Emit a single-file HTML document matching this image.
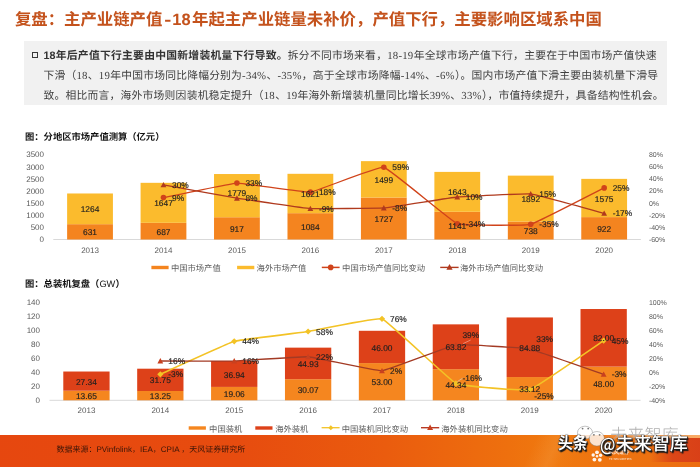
<!DOCTYPE html>
<html lang="zh-CN">
<head>
<meta charset="utf-8">
<title>复盘：主产业链产值</title>
<style>
html,body{margin:0;padding:0;}
body{text-rendering:geometricPrecision;-webkit-font-smoothing:antialiased;width:700px;height:467px;position:relative;overflow:hidden;background:#fff;font-family:"Liberation Sans", "Noto Sans CJK SC", sans-serif;}
#wrap{position:absolute;left:0;top:0;width:700px;height:467px;}
.abs{position:absolute;white-space:nowrap;}
#title{left:14.9px;top:7.7px;height:24px;line-height:24px;font-size:16.4px;font-weight:bold;color:#c4521c;letter-spacing:0;}
#box{left:24px;top:41px;width:643px;height:64px;background:#f1f1f1;}
#bullet{left:31.8px;top:51.7px;width:4.1px;height:4.1px;border:1.6px solid #383838;}
.ln{left:43.5px;width:611px;height:20px;line-height:20px;font-size:10.8px;color:#404040;text-align:justify;text-align-last:justify;white-space:nowrap;}
.ln b{color:#333;}
.ln .n{font-family:"Liberation Serif","Noto Sans CJK SC",serif;letter-spacing:0.2px;}
.ct{font-size:9.3px;font-weight:bold;color:#111;height:12px;line-height:12px;}
.lg{font-size:8.3px;color:#595959;height:12px;line-height:12px;}
#charts{left:0;top:0;}
#charts text{font-family:"Liberation Sans", "Noto Sans CJK SC", sans-serif;text-rendering:geometricPrecision;}
#footer{left:-10px;top:435.2px;width:720px;height:45px;background:linear-gradient(90deg,#e6470f 0%,#e74c0f 35%,#ea5c0e 55%,#ee700e 72%,#f0790f 78%,#ee7410 86%,#ec6c10 100%);}
#glow{left:500px;top:435.2px;width:110px;height:33px;background:linear-gradient(115deg,rgba(255,220,170,0) 30%,rgba(255,225,180,0.10) 48%,rgba(255,225,180,0.02) 58%,rgba(255,220,170,0) 70%);}
#ftop{left:590px;top:435.2px;width:110px;height:3.2px;background:linear-gradient(90deg,rgba(255,205,150,0),rgba(255,205,150,0.5) 50%,rgba(255,205,150,0.65));}
#fred{left:650px;top:438.4px;width:50px;height:24px;background:linear-gradient(90deg,rgba(218,66,24,0),rgba(218,66,24,0.9) 45%,rgba(216,62,24,0.95));}
#src{left:56.5px;top:443.9px;height:12px;line-height:12px;font-size:8px;color:#3b1508;}
.wm{top:431.8px;height:24px;line-height:24px;font-size:18px;font-weight:500;color:#fff;text-shadow:1px 1px 1.2px #1a1a1a,1.5px 1.5px 1px #1a1a1a,-0.5px -0.5px 0.8px #333,0.8px -0.5px 0.8px #333,-0.5px 0.8px 0.8px #333;}
#wm2{left:610px;top:423px;height:24px;line-height:24px;font-size:17.2px;font-weight:300;color:rgba(95,95,95,0.5);text-shadow:0 0 1px rgba(255,255,255,0.9);}
#tf{left:609px;top:449.5px;height:7px;line-height:7px;font-size:5px;color:rgba(255,255,255,0.85);font-weight:bold;}
#tf2{left:609px;top:456.5px;height:5px;line-height:5px;font-size:3px;color:rgba(255,255,255,0.8);}
</style>
</head>
<body>
<div id="wrap">
<div id="title" class="abs">复盘：主产业链产值<span style="display:inline-block;transform:scaleX(1.3);margin:0 1.6px 0 2.9px">-</span><span style="margin-right:1.5px">18</span>年起主产业链量未补价，产值下行，主要影响区域系中国</div>
<div id="box" class="abs"></div>
<div id="bullet" class="abs"></div>
<div class="abs ln" style="top:46px;width:613px"><b>18年后产值下行主要由中国新增装机量下行导致。</b>拆分不同市场来看，<span class="n">18-19</span>年全球市场产值下行，主要在于中国市场产值快速</div>
<div class="abs ln" style="top:65.9px;width:614.5px">下滑（<span class="n">18</span>、<span class="n">19</span>年中国市场同比降幅分别为<span class="n">-34%</span>、<span class="n">-35%</span>，高于全球市场降幅<span class="n">-14%</span>、<span class="n">-6%</span>）。国内市场产值下滑主要由装机量下滑导</div>
<div class="abs ln" style="top:85.6px;width:620px">致。相比而言，海外市场则因装机稳定提升（<span class="n">18</span>、<span class="n">19</span>年海外新增装机量同比增长<span class="n">39%</span>、<span class="n">33%</span>），市值持续提升，具备结构性机会。</div>

<div class="abs ct" style="left:25px;top:130.8px">图：分地区市场产值测算（亿元）</div>
<div class="abs ct" style="left:25px;top:278px">图：总装机复盘（<span style="font-weight:normal">GW</span>）</div>

<svg id="charts" class="abs" width="700" height="467" viewBox="0 0 700 467">
<line x1="53.3" y1="239.5" x2="640.9" y2="239.5" stroke="#d9d9d9" stroke-width="1"/>
<text x="44.00" y="242.38" font-size="8" text-anchor="end" fill="#595959" font-weight="normal">0</text>
<text x="44.00" y="230.24" font-size="8" text-anchor="end" fill="#595959" font-weight="normal">500</text>
<text x="44.00" y="218.09" font-size="8" text-anchor="end" fill="#595959" font-weight="normal">1000</text>
<text x="44.00" y="205.95" font-size="8" text-anchor="end" fill="#595959" font-weight="normal">1500</text>
<text x="44.00" y="193.81" font-size="8" text-anchor="end" fill="#595959" font-weight="normal">2000</text>
<text x="44.00" y="181.67" font-size="8" text-anchor="end" fill="#595959" font-weight="normal">2500</text>
<text x="44.00" y="169.52" font-size="8" text-anchor="end" fill="#595959" font-weight="normal">3000</text>
<text x="44.00" y="157.38" font-size="8" text-anchor="end" fill="#595959" font-weight="normal">3500</text>
<text x="648.90" y="157.02" font-size="7" text-anchor="start" fill="#595959" font-weight="normal">80%</text>
<text x="648.90" y="169.16" font-size="7" text-anchor="start" fill="#595959" font-weight="normal">60%</text>
<text x="648.90" y="181.31" font-size="7" text-anchor="start" fill="#595959" font-weight="normal">40%</text>
<text x="648.90" y="193.45" font-size="7" text-anchor="start" fill="#595959" font-weight="normal">20%</text>
<text x="648.90" y="205.59" font-size="7" text-anchor="start" fill="#595959" font-weight="normal">0%</text>
<text x="648.90" y="217.73" font-size="7" text-anchor="start" fill="#595959" font-weight="normal">-20%</text>
<text x="648.90" y="229.88" font-size="7" text-anchor="start" fill="#595959" font-weight="normal">-40%</text>
<text x="648.90" y="242.02" font-size="7" text-anchor="start" fill="#595959" font-weight="normal">-60%</text>
<rect x="67.12" y="224.18" width="45.80" height="15.32" fill="#f4841f"/>
<rect x="67.12" y="193.48" width="45.80" height="30.70" fill="#fbbb2d"/>
<text x="90.03" y="252.68" font-size="8" text-anchor="middle" fill="#595959" font-weight="normal">2013</text>
<rect x="140.58" y="222.82" width="45.80" height="16.68" fill="#f4841f"/>
<rect x="140.58" y="182.82" width="45.80" height="40.00" fill="#fbbb2d"/>
<text x="163.48" y="252.68" font-size="8" text-anchor="middle" fill="#595959" font-weight="normal">2014</text>
<rect x="214.03" y="217.23" width="45.80" height="22.27" fill="#f4841f"/>
<rect x="214.03" y="174.03" width="45.80" height="43.20" fill="#fbbb2d"/>
<text x="236.93" y="252.68" font-size="8" text-anchor="middle" fill="#595959" font-weight="normal">2015</text>
<rect x="287.48" y="213.17" width="45.80" height="26.33" fill="#f4841f"/>
<rect x="287.48" y="173.81" width="45.80" height="39.37" fill="#fbbb2d"/>
<text x="310.38" y="252.68" font-size="8" text-anchor="middle" fill="#595959" font-weight="normal">2016</text>
<rect x="360.93" y="197.56" width="45.80" height="41.94" fill="#f4841f"/>
<rect x="360.93" y="161.15" width="45.80" height="36.40" fill="#fbbb2d"/>
<text x="383.83" y="252.68" font-size="8" text-anchor="middle" fill="#595959" font-weight="normal">2017</text>
<rect x="434.38" y="211.79" width="45.80" height="27.71" fill="#f4841f"/>
<rect x="434.38" y="171.89" width="45.80" height="39.90" fill="#fbbb2d"/>
<text x="457.28" y="252.68" font-size="8" text-anchor="middle" fill="#595959" font-weight="normal">2018</text>
<rect x="507.83" y="221.58" width="45.80" height="17.92" fill="#f4841f"/>
<rect x="507.83" y="175.63" width="45.80" height="45.95" fill="#fbbb2d"/>
<text x="530.73" y="252.68" font-size="8" text-anchor="middle" fill="#595959" font-weight="normal">2019</text>
<rect x="581.27" y="217.11" width="45.80" height="22.39" fill="#f4841f"/>
<rect x="581.27" y="178.86" width="45.80" height="38.25" fill="#fbbb2d"/>
<text x="604.17" y="252.68" font-size="8" text-anchor="middle" fill="#595959" font-weight="normal">2020</text>
<path d="M163.48 197.61 C166.05 197.10 231.78 183.23 236.93 183.04 C242.07 182.84 305.23 192.70 310.38 192.14 C315.52 191.59 378.68 166.15 383.83 167.25 C388.97 168.35 452.13 221.72 457.28 223.71 C462.42 225.71 525.58 225.58 530.73 224.32 C535.87 223.07 601.60 189.17 604.17 187.89" fill="none" stroke="#d0431a" stroke-width="1.3"/>
<path d="M163.48 184.86 C166.05 185.32 231.78 197.39 236.93 198.21 C242.07 199.04 305.23 208.20 310.38 208.54 C315.52 208.88 378.68 208.33 383.83 207.93 C388.97 207.52 452.13 197.49 457.28 197.00 C462.42 196.51 525.58 193.39 530.73 193.96 C535.87 194.54 601.60 212.71 604.17 213.39" fill="none" stroke="#b03a1e" stroke-width="1.3"/>
<circle cx="163.48" cy="197.61" r="2.80" fill="#d0431a"/>
<circle cx="236.93" cy="183.04" r="2.80" fill="#d0431a"/>
<circle cx="310.38" cy="192.14" r="2.80" fill="#d0431a"/>
<circle cx="383.83" cy="167.25" r="2.80" fill="#d0431a"/>
<circle cx="457.28" cy="223.71" r="2.80" fill="#d0431a"/>
<circle cx="530.73" cy="224.32" r="2.80" fill="#d0431a"/>
<circle cx="604.17" cy="187.89" r="2.80" fill="#d0431a"/>
<polygon points="163.48,181.96 166.38,187.32 160.58,187.32" fill="#b03a1e"/>
<polygon points="236.93,195.31 239.83,200.68 234.03,200.68" fill="#b03a1e"/>
<polygon points="310.38,205.64 313.27,211.00 307.48,211.00" fill="#b03a1e"/>
<polygon points="383.83,205.03 386.73,210.39 380.93,210.39" fill="#b03a1e"/>
<polygon points="457.28,194.10 460.18,199.46 454.38,199.46" fill="#b03a1e"/>
<polygon points="530.73,191.06 533.62,196.43 527.83,196.43" fill="#b03a1e"/>
<polygon points="604.17,210.49 607.07,215.86 601.27,215.86" fill="#b03a1e"/>
<text x="90.03" y="235.46" font-size="8.4" text-anchor="middle" fill="#1f1f1f" font-weight="normal" stroke="#1f1f1f" stroke-width="0.15">631</text>
<text x="90.03" y="212.45" font-size="8.4" text-anchor="middle" fill="#1f1f1f" font-weight="normal" stroke="#1f1f1f" stroke-width="0.15">1264</text>
<text x="163.48" y="234.78" font-size="8.4" text-anchor="middle" fill="#1f1f1f" font-weight="normal" stroke="#1f1f1f" stroke-width="0.15">687</text>
<text x="163.48" y="206.44" font-size="8.4" text-anchor="middle" fill="#1f1f1f" font-weight="normal" stroke="#1f1f1f" stroke-width="0.15">1647</text>
<text x="236.93" y="231.99" font-size="8.4" text-anchor="middle" fill="#1f1f1f" font-weight="normal" stroke="#1f1f1f" stroke-width="0.15">917</text>
<text x="236.93" y="196.25" font-size="8.4" text-anchor="middle" fill="#1f1f1f" font-weight="normal" stroke="#1f1f1f" stroke-width="0.15">1779</text>
<text x="310.38" y="229.96" font-size="8.4" text-anchor="middle" fill="#1f1f1f" font-weight="normal" stroke="#1f1f1f" stroke-width="0.15">1084</text>
<text x="310.38" y="197.11" font-size="8.4" text-anchor="middle" fill="#1f1f1f" font-weight="normal" stroke="#1f1f1f" stroke-width="0.15">1621</text>
<text x="383.83" y="222.15" font-size="8.4" text-anchor="middle" fill="#1f1f1f" font-weight="normal" stroke="#1f1f1f" stroke-width="0.15">1727</text>
<text x="383.83" y="182.98" font-size="8.4" text-anchor="middle" fill="#1f1f1f" font-weight="normal" stroke="#1f1f1f" stroke-width="0.15">1499</text>
<text x="457.28" y="229.27" font-size="8.4" text-anchor="middle" fill="#1f1f1f" font-weight="normal" stroke="#1f1f1f" stroke-width="0.15">1141</text>
<text x="457.28" y="195.46" font-size="8.4" text-anchor="middle" fill="#1f1f1f" font-weight="normal" stroke="#1f1f1f" stroke-width="0.15">1643</text>
<text x="530.73" y="234.16" font-size="8.4" text-anchor="middle" fill="#1f1f1f" font-weight="normal" stroke="#1f1f1f" stroke-width="0.15">738</text>
<text x="530.73" y="202.23" font-size="8.4" text-anchor="middle" fill="#1f1f1f" font-weight="normal" stroke="#1f1f1f" stroke-width="0.15">1892</text>
<text x="604.17" y="231.93" font-size="8.4" text-anchor="middle" fill="#1f1f1f" font-weight="normal" stroke="#1f1f1f" stroke-width="0.15">922</text>
<text x="604.17" y="201.61" font-size="8.4" text-anchor="middle" fill="#1f1f1f" font-weight="normal" stroke="#1f1f1f" stroke-width="0.15">1575</text>
<text x="171.98" y="200.63" font-size="8.4" text-anchor="start" fill="#1f1f1f" font-weight="normal" stroke="#1f1f1f" stroke-width="0.15">9%</text>
<text x="171.98" y="187.88" font-size="8.4" text-anchor="start" fill="#1f1f1f" font-weight="normal" stroke="#1f1f1f" stroke-width="0.15">30%</text>
<text x="245.43" y="186.06" font-size="8.4" text-anchor="start" fill="#1f1f1f" font-weight="normal" stroke="#1f1f1f" stroke-width="0.15">33%</text>
<text x="245.43" y="201.24" font-size="8.4" text-anchor="start" fill="#1f1f1f" font-weight="normal" stroke="#1f1f1f" stroke-width="0.15">8%</text>
<text x="318.88" y="195.17" font-size="8.4" text-anchor="start" fill="#1f1f1f" font-weight="normal" stroke="#1f1f1f" stroke-width="0.15">18%</text>
<text x="318.88" y="211.56" font-size="8.4" text-anchor="start" fill="#1f1f1f" font-weight="normal" stroke="#1f1f1f" stroke-width="0.15">-9%</text>
<text x="392.33" y="170.27" font-size="8.4" text-anchor="start" fill="#1f1f1f" font-weight="normal" stroke="#1f1f1f" stroke-width="0.15">59%</text>
<text x="392.33" y="210.95" font-size="8.4" text-anchor="start" fill="#1f1f1f" font-weight="normal" stroke="#1f1f1f" stroke-width="0.15">-8%</text>
<text x="465.78" y="226.74" font-size="8.4" text-anchor="start" fill="#1f1f1f" font-weight="normal" stroke="#1f1f1f" stroke-width="0.15">-34%</text>
<text x="465.78" y="200.02" font-size="8.4" text-anchor="start" fill="#1f1f1f" font-weight="normal" stroke="#1f1f1f" stroke-width="0.15">10%</text>
<text x="539.23" y="227.35" font-size="8.4" text-anchor="start" fill="#1f1f1f" font-weight="normal" stroke="#1f1f1f" stroke-width="0.15">-35%</text>
<text x="539.23" y="196.99" font-size="8.4" text-anchor="start" fill="#1f1f1f" font-weight="normal" stroke="#1f1f1f" stroke-width="0.15">15%</text>
<text x="612.67" y="190.92" font-size="8.4" text-anchor="start" fill="#1f1f1f" font-weight="normal" stroke="#1f1f1f" stroke-width="0.15">25%</text>
<text x="612.67" y="216.42" font-size="8.4" text-anchor="start" fill="#1f1f1f" font-weight="normal" stroke="#1f1f1f" stroke-width="0.15">-17%</text>
<rect x="151.4" y="265.8" width="17.2" height="3.4" fill="#f4841f"/>
<rect x="237.1" y="265.8" width="17.2" height="3.4" fill="#fbbb2d"/>
<line x1="321.8" y1="267.4" x2="339.6" y2="267.4" stroke="#d0431a" stroke-width="1.5"/>
<circle cx="330.70" cy="267.40" r="2.80" fill="#d0431a"/>
<line x1="440.2" y1="267.4" x2="458.6" y2="267.4" stroke="#b03a1e" stroke-width="1.4"/>
<polygon points="449.50,264.10 452.60,269.83 446.40,269.83" fill="#b03a1e"/>
<line x1="49.5" y1="400.3" x2="640.6" y2="400.3" stroke="#d9d9d9" stroke-width="1"/>
<text x="40.00" y="403.18" font-size="8" text-anchor="end" fill="#595959" font-weight="normal">0</text>
<text x="40.00" y="389.14" font-size="8" text-anchor="end" fill="#595959" font-weight="normal">20</text>
<text x="40.00" y="375.09" font-size="8" text-anchor="end" fill="#595959" font-weight="normal">40</text>
<text x="40.00" y="361.05" font-size="8" text-anchor="end" fill="#595959" font-weight="normal">60</text>
<text x="40.00" y="347.01" font-size="8" text-anchor="end" fill="#595959" font-weight="normal">80</text>
<text x="40.00" y="332.97" font-size="8" text-anchor="end" fill="#595959" font-weight="normal">100</text>
<text x="40.00" y="318.92" font-size="8" text-anchor="end" fill="#595959" font-weight="normal">120</text>
<text x="40.00" y="304.88" font-size="8" text-anchor="end" fill="#595959" font-weight="normal">140</text>
<text x="648.90" y="304.52" font-size="7" text-anchor="start" fill="#595959" font-weight="normal">100%</text>
<text x="648.90" y="318.56" font-size="7" text-anchor="start" fill="#595959" font-weight="normal">80%</text>
<text x="648.90" y="332.61" font-size="7" text-anchor="start" fill="#595959" font-weight="normal">60%</text>
<text x="648.90" y="346.65" font-size="7" text-anchor="start" fill="#595959" font-weight="normal">40%</text>
<text x="648.90" y="360.69" font-size="7" text-anchor="start" fill="#595959" font-weight="normal">20%</text>
<text x="648.90" y="374.73" font-size="7" text-anchor="start" fill="#595959" font-weight="normal">0%</text>
<text x="648.90" y="388.78" font-size="7" text-anchor="start" fill="#595959" font-weight="normal">-20%</text>
<text x="648.90" y="402.82" font-size="7" text-anchor="start" fill="#595959" font-weight="normal">-40%</text>
<rect x="63.29" y="390.72" width="46.30" height="9.58" fill="#f5861f"/>
<rect x="63.29" y="371.52" width="46.30" height="19.20" fill="#dd4119"/>
<text x="86.44" y="413.28" font-size="8" text-anchor="middle" fill="#595959" font-weight="normal">2013</text>
<rect x="137.18" y="391.00" width="46.30" height="9.30" fill="#f5861f"/>
<rect x="137.18" y="368.70" width="46.30" height="22.29" fill="#dd4119"/>
<text x="160.33" y="413.28" font-size="8" text-anchor="middle" fill="#595959" font-weight="normal">2014</text>
<rect x="211.07" y="386.92" width="46.30" height="13.38" fill="#f5861f"/>
<rect x="211.07" y="360.98" width="46.30" height="25.94" fill="#dd4119"/>
<text x="234.22" y="413.28" font-size="8" text-anchor="middle" fill="#595959" font-weight="normal">2015</text>
<rect x="284.96" y="379.19" width="46.30" height="21.11" fill="#f5861f"/>
<rect x="284.96" y="347.64" width="46.30" height="31.55" fill="#dd4119"/>
<text x="308.11" y="413.28" font-size="8" text-anchor="middle" fill="#595959" font-weight="normal">2016</text>
<rect x="358.84" y="363.09" width="46.30" height="37.21" fill="#f5861f"/>
<rect x="358.84" y="330.79" width="46.30" height="32.30" fill="#dd4119"/>
<text x="381.99" y="413.28" font-size="8" text-anchor="middle" fill="#595959" font-weight="normal">2017</text>
<rect x="432.73" y="369.17" width="46.30" height="31.13" fill="#f5861f"/>
<rect x="432.73" y="324.36" width="46.30" height="44.81" fill="#dd4119"/>
<text x="455.88" y="413.28" font-size="8" text-anchor="middle" fill="#595959" font-weight="normal">2018</text>
<rect x="506.62" y="377.05" width="46.30" height="23.25" fill="#f5861f"/>
<rect x="506.62" y="317.45" width="46.30" height="59.60" fill="#dd4119"/>
<text x="529.77" y="413.28" font-size="8" text-anchor="middle" fill="#595959" font-weight="normal">2019</text>
<rect x="580.51" y="366.60" width="46.30" height="33.70" fill="#f5861f"/>
<rect x="580.51" y="309.02" width="46.30" height="57.58" fill="#dd4119"/>
<text x="603.66" y="413.28" font-size="8" text-anchor="middle" fill="#595959" font-weight="normal">2020</text>
<path d="M160.33 374.32 C162.92 373.17 229.05 342.82 234.22 341.32 C239.39 339.82 302.93 332.28 308.11 331.49 C313.28 330.70 376.82 317.03 381.99 318.85 C387.17 320.67 450.71 380.97 455.88 383.45 C461.05 385.93 524.60 391.27 529.77 389.77 C534.94 388.27 601.07 342.34 603.66 340.62" fill="none" stroke="#f3c326" stroke-width="1.6"/>
<path d="M160.33 360.98 C162.92 360.98 229.05 361.13 234.22 360.98 C239.39 360.83 302.93 356.42 308.11 356.77 C313.28 357.11 376.82 371.23 381.99 370.81 C387.17 370.39 450.71 345.59 455.88 344.83 C461.05 344.07 524.60 348.01 529.77 349.04 C534.94 350.08 601.07 373.44 603.66 374.32" fill="none" stroke="#a33a24" stroke-width="1.3"/>
<polygon points="160.33,371.22 163.43,374.32 160.33,377.42 157.23,374.32" fill="#f3c326"/>
<polygon points="234.22,338.22 237.32,341.32 234.22,344.42 231.12,341.32" fill="#f3c326"/>
<polygon points="308.11,328.39 311.21,331.49 308.11,334.59 305.01,331.49" fill="#f3c326"/>
<polygon points="381.99,315.75 385.09,318.85 381.99,321.95 378.89,318.85" fill="#f3c326"/>
<polygon points="455.88,380.35 458.98,383.45 455.88,386.55 452.78,383.45" fill="#f3c326"/>
<polygon points="529.77,386.67 532.87,389.77 529.77,392.87 526.67,389.77" fill="#f3c326"/>
<polygon points="603.66,337.52 606.76,340.62 603.66,343.72 600.56,340.62" fill="#f3c326"/>
<polygon points="160.33,358.08 163.23,363.44 157.43,363.44" fill="#c9401f"/>
<polygon points="234.22,358.08 237.12,363.44 231.32,363.44" fill="#c9401f"/>
<polygon points="308.11,353.87 311.01,359.23 305.21,359.23" fill="#c9401f"/>
<polygon points="381.99,367.91 384.89,373.27 379.09,373.27" fill="#c9401f"/>
<polygon points="455.88,341.93 458.78,347.30 452.98,347.30" fill="#c9401f"/>
<polygon points="529.77,346.14 532.67,351.51 526.87,351.51" fill="#c9401f"/>
<polygon points="603.66,371.42 606.56,376.79 600.76,376.79" fill="#c9401f"/>
<text x="86.44" y="399.13" font-size="8.4" text-anchor="middle" fill="#1f1f1f" font-weight="normal" stroke="#1f1f1f" stroke-width="0.15">13.65</text>
<text x="86.44" y="384.74" font-size="8.4" text-anchor="middle" fill="#1f1f1f" font-weight="normal" stroke="#1f1f1f" stroke-width="0.15">27.34</text>
<text x="160.33" y="399.27" font-size="8.4" text-anchor="middle" fill="#1f1f1f" font-weight="normal" stroke="#1f1f1f" stroke-width="0.15">13.25</text>
<text x="160.33" y="383.47" font-size="8.4" text-anchor="middle" fill="#1f1f1f" font-weight="normal" stroke="#1f1f1f" stroke-width="0.15">31.75</text>
<text x="234.22" y="397.23" font-size="8.4" text-anchor="middle" fill="#1f1f1f" font-weight="normal" stroke="#1f1f1f" stroke-width="0.15">19.06</text>
<text x="234.22" y="377.57" font-size="8.4" text-anchor="middle" fill="#1f1f1f" font-weight="normal" stroke="#1f1f1f" stroke-width="0.15">36.94</text>
<text x="308.11" y="393.37" font-size="8.4" text-anchor="middle" fill="#1f1f1f" font-weight="normal" stroke="#1f1f1f" stroke-width="0.15">30.07</text>
<text x="308.11" y="367.04" font-size="8.4" text-anchor="middle" fill="#1f1f1f" font-weight="normal" stroke="#1f1f1f" stroke-width="0.15">44.93</text>
<text x="381.99" y="385.32" font-size="8.4" text-anchor="middle" fill="#1f1f1f" font-weight="normal" stroke="#1f1f1f" stroke-width="0.15">53.00</text>
<text x="381.99" y="350.56" font-size="8.4" text-anchor="middle" fill="#1f1f1f" font-weight="normal" stroke="#1f1f1f" stroke-width="0.15">46.00</text>
<text x="455.88" y="388.36" font-size="8.4" text-anchor="middle" fill="#1f1f1f" font-weight="normal" stroke="#1f1f1f" stroke-width="0.15">44.34</text>
<text x="455.88" y="350.39" font-size="8.4" text-anchor="middle" fill="#1f1f1f" font-weight="normal" stroke="#1f1f1f" stroke-width="0.15">63.82</text>
<text x="529.77" y="392.30" font-size="8.4" text-anchor="middle" fill="#1f1f1f" font-weight="normal" stroke="#1f1f1f" stroke-width="0.15">33.12</text>
<text x="529.77" y="350.87" font-size="8.4" text-anchor="middle" fill="#1f1f1f" font-weight="normal" stroke="#1f1f1f" stroke-width="0.15">84.88</text>
<text x="603.66" y="387.07" font-size="8.4" text-anchor="middle" fill="#1f1f1f" font-weight="normal" stroke="#1f1f1f" stroke-width="0.15">48.00</text>
<text x="603.66" y="341.43" font-size="8.4" text-anchor="middle" fill="#1f1f1f" font-weight="normal" stroke="#1f1f1f" stroke-width="0.15">82.00</text>
<text x="168.33" y="377.34" font-size="8.4" text-anchor="start" fill="#1f1f1f" font-weight="normal" stroke="#1f1f1f" stroke-width="0.15">-3%</text>
<text x="168.33" y="364.00" font-size="8.4" text-anchor="start" fill="#1f1f1f" font-weight="normal" stroke="#1f1f1f" stroke-width="0.15">16%</text>
<text x="242.22" y="344.34" font-size="8.4" text-anchor="start" fill="#1f1f1f" font-weight="normal" stroke="#1f1f1f" stroke-width="0.15">44%</text>
<text x="242.22" y="364.00" font-size="8.4" text-anchor="start" fill="#1f1f1f" font-weight="normal" stroke="#1f1f1f" stroke-width="0.15">16%</text>
<text x="316.11" y="334.51" font-size="8.4" text-anchor="start" fill="#1f1f1f" font-weight="normal" stroke="#1f1f1f" stroke-width="0.15">58%</text>
<text x="316.11" y="359.79" font-size="8.4" text-anchor="start" fill="#1f1f1f" font-weight="normal" stroke="#1f1f1f" stroke-width="0.15">22%</text>
<text x="389.99" y="321.88" font-size="8.4" text-anchor="start" fill="#1f1f1f" font-weight="normal" stroke="#1f1f1f" stroke-width="0.15">76%</text>
<text x="389.99" y="373.83" font-size="8.4" text-anchor="start" fill="#1f1f1f" font-weight="normal" stroke="#1f1f1f" stroke-width="0.15">2%</text>
<text x="462.50" y="380.97" font-size="8.4" text-anchor="start" fill="#1f1f1f" font-weight="normal" stroke="#1f1f1f" stroke-width="0.15">-16%</text>
<text x="462.38" y="337.85" font-size="8.4" text-anchor="start" fill="#1f1f1f" font-weight="normal" stroke="#1f1f1f" stroke-width="0.15">39%</text>
<text x="534.27" y="399.09" font-size="8.4" text-anchor="start" fill="#1f1f1f" font-weight="normal" stroke="#1f1f1f" stroke-width="0.15">-25%</text>
<text x="536.27" y="342.07" font-size="8.4" text-anchor="start" fill="#1f1f1f" font-weight="normal" stroke="#1f1f1f" stroke-width="0.15">33%</text>
<text x="611.66" y="343.64" font-size="8.4" text-anchor="start" fill="#1f1f1f" font-weight="normal" stroke="#1f1f1f" stroke-width="0.15">45%</text>
<text x="611.66" y="377.34" font-size="8.4" text-anchor="start" fill="#1f1f1f" font-weight="normal" stroke="#1f1f1f" stroke-width="0.15">-3%</text>
<line x1="463.1" y1="343.6" x2="470.7" y2="340" stroke="rgba(255,255,255,0.55)" stroke-width="0.7"/>
<line x1="457.5" y1="381.5" x2="462.5" y2="378.3" stroke="rgba(215,205,190,0.8)" stroke-width="0.9"/>
<rect x="188.7" y="426.3" width="17.2" height="3.4" fill="#f5861f"/>
<rect x="255.3" y="426.3" width="17.2" height="3.4" fill="#dd4119"/>
<line x1="321.6" y1="427.7" x2="339.6" y2="427.7" stroke="#f3c326" stroke-width="1.3"/>
<polygon points="330.80,425.20 333.30,427.70 330.80,430.20 328.30,427.70" fill="#f3c326"/>
<line x1="421.0" y1="427.7" x2="439.2" y2="427.7" stroke="#b83a24" stroke-width="1.4"/>
<polygon points="430.10,424.50 433.10,430.05 427.10,430.05" fill="#c9401f"/>
</svg>

<div class="abs lg" style="left:170.9px;top:262.4px">中国市场产值</div>
<div class="abs lg" style="left:256.6px;top:262.4px">海外市场产值</div>
<div class="abs lg" style="left:342.1px;top:262.4px">中国市场产值同比变动</div>
<div class="abs lg" style="left:460px;top:262.4px">海外市场产值同比变动</div>

<div class="abs lg" style="left:209.1px;top:423px">中国装机</div>
<div class="abs lg" style="left:275.2px;top:423px">海外装机</div>
<div class="abs lg" style="left:341.7px;top:423px">中国装机同比变动</div>
<div class="abs lg" style="left:441.3px;top:423px">海外装机同比变动</div>

<div id="footer" class="abs"></div>
<div id="glow" class="abs"></div>
<div id="ftop" class="abs"></div>
<div id="fred" class="abs"></div>
<div id="src" class="abs">数据来源：PVinfolink，IEA，CPIA ，天风证券研究所</div>
<svg class="abs" style="left:0;top:0" width="700" height="467" viewBox="0 0 700 467">
<g fill="#fff" opacity="0.92">
<circle cx="597" cy="452.3" r="1.9"/><circle cx="593.2" cy="455" r="1.7"/><circle cx="600.6" cy="455.2" r="1.7"/>
<circle cx="594.4" cy="459.6" r="1.9"/><circle cx="599.8" cy="459.8" r="1.9"/><circle cx="597" cy="456.2" r="1.2"/>
</g>
<g fill="rgba(255,255,255,0.8)" stroke="rgba(120,120,120,0.55)" stroke-width="0.8">
<ellipse cx="585" cy="432.6" rx="7.5" ry="6.4"/>
<ellipse cx="596.9" cy="438.8" rx="7.6" ry="7.3"/>
</g>
<g fill="rgba(60,60,60,0.7)">
<circle cx="582.6" cy="428.6" r="0.9"/><circle cx="588.2" cy="428.6" r="0.9"/>
<circle cx="593.9" cy="434.8" r="0.9"/><circle cx="599.6" cy="434.8" r="0.9"/>
</g>
</svg>
<div id="tf" class="abs">天风证券</div>
<div id="tf2" class="abs">TF SECURITIES</div>
<div id="wm2" class="abs">未来智库</div>
<div class="abs wm" style="left:557.6px;font-size:17px;font-weight:bold;top:432px;transform:scaleX(0.87);transform-origin:0 50%">头条</div>
<div class="abs wm" style="left:600.2px;font-family:'Noto Sans CJK SC',sans-serif;transform:scaleX(0.88);transform-origin:0 50%">@</div>
<div class="abs wm" style="left:615.8px">未来智库</div>
</div>
</body>
</html>
